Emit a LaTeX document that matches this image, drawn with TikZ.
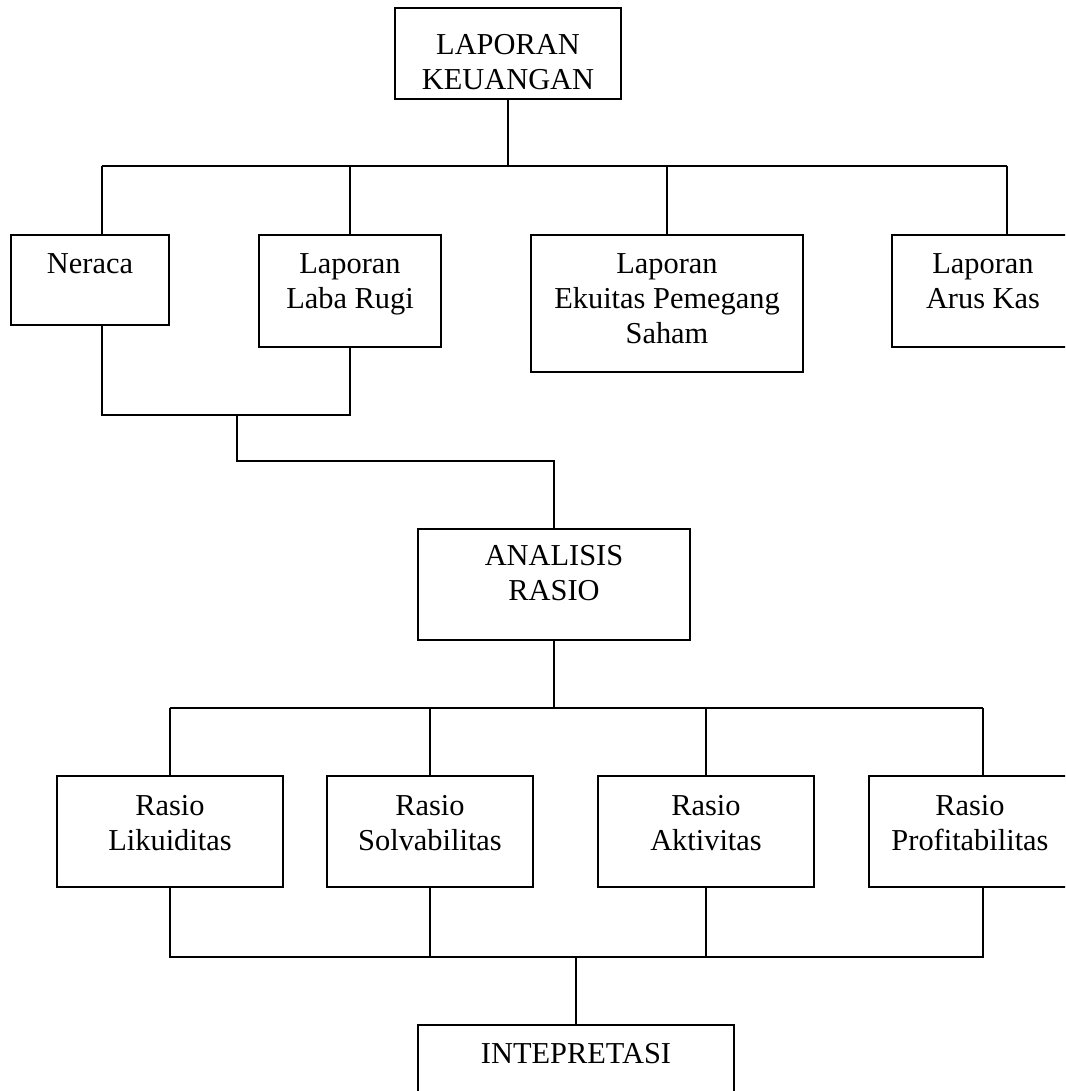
\documentclass[tikz,border=0pt]{standalone}
\usepackage{fontspec}
\setmainfont{Liberation Serif}
\usepackage{tikz}
\usetikzlibrary{positioning, calc}

\newlength{\pxu}
\setlength{\pxu}{0.5pt}
% box text: width, height, first baseline, lines
\newcommand{\kotak}[4]{\parbox[c][#2\pxu][t]{#1\pxu}{\centering\rule{0pt}{#3\pxu}#4}}

\begin{document}
\begin{tikzpicture}[
      x=0.5pt, y=-0.5pt,
      line width=0.9pt,
      every node/.style={draw, inner sep=0pt, outer sep=0pt, anchor=north west,
        font=\fontsize{15.2pt}{17.5pt}\selectfont}
    ]
      \useasboundingbox (0,0) rectangle (1065,1091);
      \clip (0,0) rectangle (1065,1091);

      % level 0
      \node (lk) at (395,8) {\kotak{226}{91}{47}{LAPORAN\\KEUANGAN}};

      % laporan
      \node (nrc) at (11,235) {\kotak{158}{90}{38}{Neraca}};
      \node (lr) at (259,235) {\kotak{182}{112}{38}{Laporan\\Laba Rugi}};
      \node (eq) at (531,235) {\kotak{272}{137}{38}{Laporan\\Ekuitas Pemegang\\Saham}};
      \node (ak) at (892,235) {\kotak{182}{112}{38}{Laporan\\Arus Kas}};

      % analisis
      \node (ar) at (418,529) {\kotak{272}{111}{36}{ANALISIS\\RASIO}};

      % rasio
      \node (rl) at (57,776) {\kotak{226}{111}{39}{Rasio\\Likuiditas}};
      \node (rs) at (327,776) {\kotak{206}{111}{39}{Rasio\\Solvabilitas}};
      \node (ra) at (598,776) {\kotak{216}{111}{39}{Rasio\\Aktivitas}};
      \node (rp) at (869,776) {\kotak{202}{111}{39}{Rasio\\Profitabilitas}};

      \node (in) at (418,1025) {\kotak{316}{115}{38}{INTEPRETASI}};

      % connectors
      \coordinate (t1) at (102,166);
      \coordinate (t2) at (350,166);
      \coordinate (t3) at (667,166);
      \coordinate (t4) at (1007,166);
      \draw (lk.south) -- (lk.south |- t1);
      \draw (t1) -- (t4);
      \foreach \t/\b in {t1/nrc, t2/lr, t3/eq, t4/ak}
        \draw (\t) -- (\t |- \b.north);

      \coordinate (m1) at (102,415);
      \coordinate (m2) at (350,415);
      \coordinate (m3) at (237,415);
      \coordinate (m4) at (554,461);
      \draw (m1 |- nrc.south) -- (m1) -- (m2) -- (m2 |- lr.south);
      \draw (m3) |- (m4) -- (m4 |- ar.north);

      \coordinate (r1) at (170,708);
      \coordinate (r4) at (983,708);
      \draw (ar.south) -- (ar.south |- r1);
      \draw (r1) -- (r4);
      \foreach \b in {rl, rs, ra}
        \draw (\b.north) -- (\b.north |- r1);
      \draw (r4) -- (r4 |- rp.north);

      \coordinate (q) at (576,957);
      \coordinate (s4) at (983,957);
      \draw (rl.south) |- (s4) -- (s4 |- rp.south);
      \draw (rs.south) -- (rs.south |- q);
      \draw (ra.south) -- (ra.south |- q);
      \draw (q) -- (in.north);
    \end{tikzpicture}
\end{document}
